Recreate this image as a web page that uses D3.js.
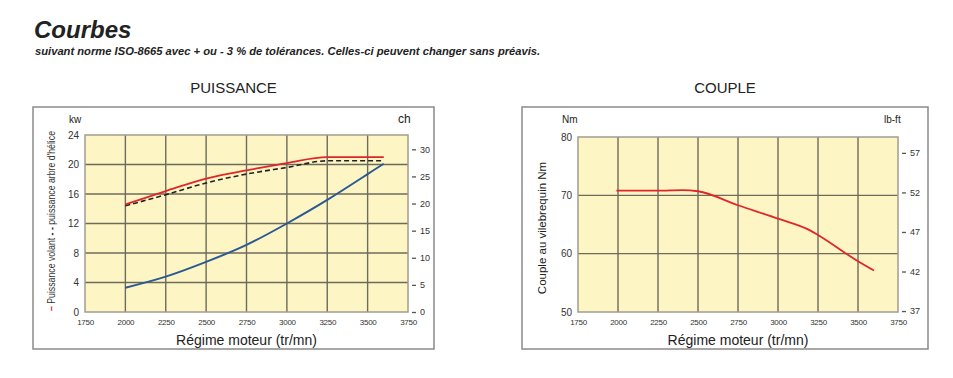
<!DOCTYPE html>
<html lang="fr">
<head>
<meta charset="UTF-8">
<title>Courbes</title>
<script src="https://d3js.org/d3.v7.min.js"></script>
<style>
  body { margin: 0; background: #fff; font-family: "Liberation Sans", Arial, sans-serif; }
  text { fill: #222; }
  .tick text { font-size: 9px; fill: #333; }
  .xt text { font-size: 8px; }
</style>
</head>
<body>
<svg width="953" height="378"></svg>
<script>
// ---- data ----
const rpmTicks = [1750, 2000, 2250, 2500, 2750, 3000, 3250, 3500, 3750];
const kwTicks = [0, 4, 8, 12, 16, 20, 24];
const chTicks = [0, 5, 10, 15, 20, 25, 30];
const nmTicks = [50, 60, 70, 80];
const lbftTicks = [37, 42, 47, 52, 57];

// puissance volant (kW)
const volantRpm = [2000, 2250, 2500, 2600, 2750, 3000, 3250, 3600];
const volantKw  = [14.6, 16.4, 18.1, 18.6, 19.2, 20.2, 21.0, 21.0];
// puissance arbre d'hélice (kW)
const heliceRpm = [2000, 2250, 2500, 2750, 3000, 3250, 3600];
const heliceKw  = [14.4, 15.9, 17.5, 18.7, 19.6, 20.5, 20.5];
// courbe d'hélice (kW)
const propRpm = [2000, 2250, 2500, 2750, 3000, 3250, 3500, 3600];
const propKw  = [3.3, 4.8, 6.8, 9.1, 12.0, 15.2, 18.7, 20.1];
// couple (Nm)
const coupleRpm = [1990, 2250, 2400, 2500, 2750, 3000, 3200, 3250, 3500, 3600];
const coupleNm  = [70.8, 70.8, 70.9, 70.7, 68.3, 66.0, 64.0, 63.2, 58.7, 57.1];

const svg = d3.select("svg");

// titles
svg.append("text").attr("x", 34).attr("y", 38)
  .style("font-size", "24px").style("font-weight", "bold").style("font-style", "italic")
  .text("Courbes");
svg.append("text").attr("x", 35).attr("y", 55)
  .style("font-size", "11.2px").style("font-weight", "bold").style("font-style", "italic")
  .text("suivant norme ISO-8665 avec + ou - 3 % de tolérances. Celles-ci peuvent changer sans préavis.");

function panel(opt) {
  const g = svg.append("g");
  // frame
  g.append("rect").attr("x", opt.box[0]).attr("y", 107)
    .attr("width", opt.box[1] - opt.box[0]).attr("height", 242)
    .attr("fill", "none").attr("stroke", "#8a8a8a").attr("stroke-width", 1.5);

  svg.append("text").attr("x", (opt.box[0] + opt.box[1]) / 2).attr("y", 93)
    .attr("text-anchor", "middle").style("font-size", "15px").text(opt.title);

  const x = d3.scaleLinear().domain([1750, 3750]).range(opt.xr);
  const y = d3.scaleLinear().domain(opt.yd).range([312, opt.top]);
  const y2 = d3.scaleLinear().domain(opt.yd.map(v => v * opt.k)).range([312, opt.top]);

  g.append("rect").attr("x", opt.xr[0]).attr("y", opt.top)
    .attr("width", opt.xr[1] - opt.xr[0]).attr("height", 312 - opt.top)
    .attr("fill", "#fdf6c4");

  // grid
  g.append("g").selectAll("line").data(rpmTicks.slice(1, -1)).join("line")
    .attr("x1", d => x(d)).attr("x2", d => x(d)).attr("y1", opt.top).attr("y2", 312)
    .attr("stroke", "#6e6a5c").attr("stroke-width", 1.4);
  g.append("g").selectAll("line").data(opt.yTicks.slice(1, -1)).join("line")
    .attr("x1", opt.xr[0]).attr("x2", opt.xr[1]).attr("y1", d => y(d)).attr("y2", d => y(d))
    .attr("stroke", "#6e6a5c").attr("stroke-width", 1.4);
  g.append("rect").attr("x", opt.xr[0]).attr("y", opt.top)
    .attr("width", opt.xr[1] - opt.xr[0]).attr("height", 312 - opt.top)
    .attr("fill", "none").attr("stroke", "#a09d90").attr("stroke-width", 1.5);

  // axes
  const ax = g.append("g").attr("class", "xt").attr("transform", "translate(0,323)")
    .call(d3.axisBottom(x).tickValues(rpmTicks).tickFormat(d3.format("d")).tickSize(0).tickPadding(0));
  ax.select(".domain").remove();
  ax.selectAll("text").attr("dy", "0.3em").style("letter-spacing", "-0.3px");

  const ay = g.append("g").attr("transform", `translate(${opt.xr[0] - 6},0)`)
    .call(d3.axisLeft(y).tickValues(opt.yTicks).tickSize(0).tickPadding(0));
  ay.select(".domain").remove();
  ay.selectAll("text").style("font-size", "10px");

  const ay2 = g.append("g").attr("transform", `translate(${opt.xr[1] + 4},0)`)
    .call(d3.axisRight(y2).tickValues(opt.y2Ticks).tickSize(4).tickPadding(4));
  ay2.select(".domain").remove();
  ay2.selectAll("line").attr("stroke", "#555").attr("stroke-width", 1.3);

  // unit labels
  g.append("text").attr("x", opt.xr[0] - 16).attr("y", 123).style("font-size", "10px").text(opt.u1);
  g.append("text").attr("x", opt.xr[1] + (opt.u2 === "ch" ? -10 : -14)).attr("y", 123)
    .style("font-size", opt.u2 === "ch" ? "12px" : "10px").text(opt.u2);

  // x label
  g.append("text").attr("x", (opt.xr[0] + opt.xr[1]) / 2).attr("y", 345)
    .attr("text-anchor", "middle").style("font-size", "14px").text("Régime moteur (tr/mn)");

  return { g, x, y };
}

// ---- Puissance ----
const p = panel({
  title: "PUISSANCE", box: [33, 434], xr: [85, 408], top: 135,
  yd: [0, 24], yTicks: kwTicks, k: 1.36, y2Ticks: chTicks, u1: "kw", u2: "ch"
});
const lineP = (xs, ys, curve) => d3.line().curve(curve)
  .x((d, i) => p.x(xs[i])).y(d => p.y(d))(ys);
p.g.append("path").attr("d", lineP(propRpm, propKw, d3.curveNatural))
  .attr("fill", "none").attr("stroke", "#2b5a93").attr("stroke-width", 2);
p.g.append("path").attr("d", lineP(heliceRpm, heliceKw, d3.curveMonotoneX))
  .attr("fill", "none").attr("stroke", "#222").attr("stroke-width", 1.6).attr("stroke-dasharray", "5,3");
p.g.append("path").attr("d", lineP(volantRpm, volantKw, d3.curveMonotoneX))
  .attr("fill", "none").attr("stroke", "#e0262a").attr("stroke-width", 1.8);

// rotated legend label
const lbl = svg.append("text").attr("transform", "translate(55,311) rotate(-90)")
  .style("font-size", "11.5px").attr("textLength", 180).attr("lengthAdjust", "spacingAndGlyphs");
lbl.append("tspan").attr("fill", "#e0262a").style("font-weight", "bold").text("–");
lbl.append("tspan").attr("fill", "#333").text(" Puissance volant ");
lbl.append("tspan").attr("fill", "#222").style("font-weight", "bold").text("- -");
lbl.append("tspan").attr("fill", "#333").text(" puissance arbre d'hélice");

// ---- Couple ----
const c = panel({
  title: "COUPLE", box: [522, 928], xr: [578, 898], top: 137,
  yd: [50, 80], yTicks: nmTicks, k: 0.7376, y2Ticks: lbftTicks, u1: "Nm", u2: "lb-ft"
});
c.g.append("path")
  .attr("d", d3.line().curve(d3.curveMonotoneX)
    .x((d, i) => c.x(coupleRpm[i])).y(d => c.y(d))(coupleNm))
  .attr("fill", "none").attr("stroke", "#e0262a").attr("stroke-width", 1.8);

svg.append("text").attr("transform", "translate(546,228) rotate(-90)")
  .attr("text-anchor", "middle").style("font-size", "11.5px").attr("fill", "#333")
  .text("Couple au vilebrequin Nm");
</script>
</body>
</html>
